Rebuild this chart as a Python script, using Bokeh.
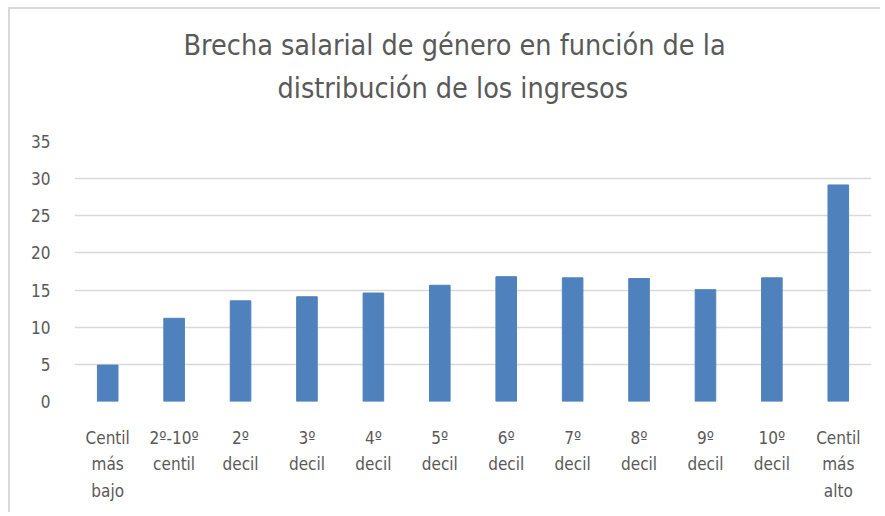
from bokeh.plotting import figure
from bokeh.models import Range1d, FixedTicker, Title
from bokeh.embed import file_html
from bokeh.resources import INLINE

categories = ["Centil\nmás\nbajo", "2º-10º\ncentil", "2º\ndecil", "3º\ndecil", "4º\ndecil",
              "5º\ndecil", "6º\ndecil", "7º\ndecil", "8º\ndecil", "9º\ndecil",
              "10º\ndecil", "Centil\nmás\nalto"]
values = [4.9, 11.2, 13.55, 14.1, 14.6, 15.65, 16.8, 16.65, 16.55, 15.05, 16.65, 29.15]
y_ticks = [0, 5, 10, 15, 20, 25, 30, 35]
title_lines = ["Brecha salarial de género en función de la", "distribución de los ingresos"]

FONT = "DejaVu Sans Condensed"
TXT = "#595959"

p = figure(x_range=categories, width=872, height=505, output_backend="svg",
           toolbar_location=None, tools="",
           min_border_left=64, min_border_right=11, min_border_top=132, min_border_bottom=113)
p.styles = {"margin-left": "8px", "margin-top": "7px",
            "border-left": "2px solid #D9D9D9", "border-top": "2px solid #D9D9D9"}

# title: two lines, the one closest to the frame is added first
p.add_layout(Title(text=title_lines[1], align="left", offset=203, text_font=FONT,
                   text_font_size="28.5px", text_font_style="normal", text_color=TXT,
                   standoff=73), "above")
p.add_layout(Title(text=title_lines[0], align="left", offset=109, text_font=FONT,
                   text_font_size="28.5px", text_font_style="normal", text_color=TXT,
                   standoff=-57), "above")

p.vbar(x=categories, top=values, width=0.31, color="#4F81BD")

p.y_range = Range1d(0, 35)
p.yaxis.ticker = FixedTicker(ticks=y_ticks)
p.xgrid.grid_line_color = None
p.ygrid.grid_line_color = "#D9D9D9"
p.ygrid.grid_line_width = 1.5
p.outline_line_color = None

for ax in (p.xaxis[0], p.yaxis[0]):
    ax.axis_line_color = None
    ax.major_tick_line_color = None
    ax.minor_tick_line_color = None
    ax.major_label_text_font = FONT
    ax.major_label_text_font_size = "17px"
    ax.major_label_text_color = TXT

p.yaxis.major_label_standoff = 18
p.xaxis.major_label_standoff = 20
p.xaxis.major_label_text_line_height = 1.33

open("out.html", "w").write(file_html(p, INLINE))
